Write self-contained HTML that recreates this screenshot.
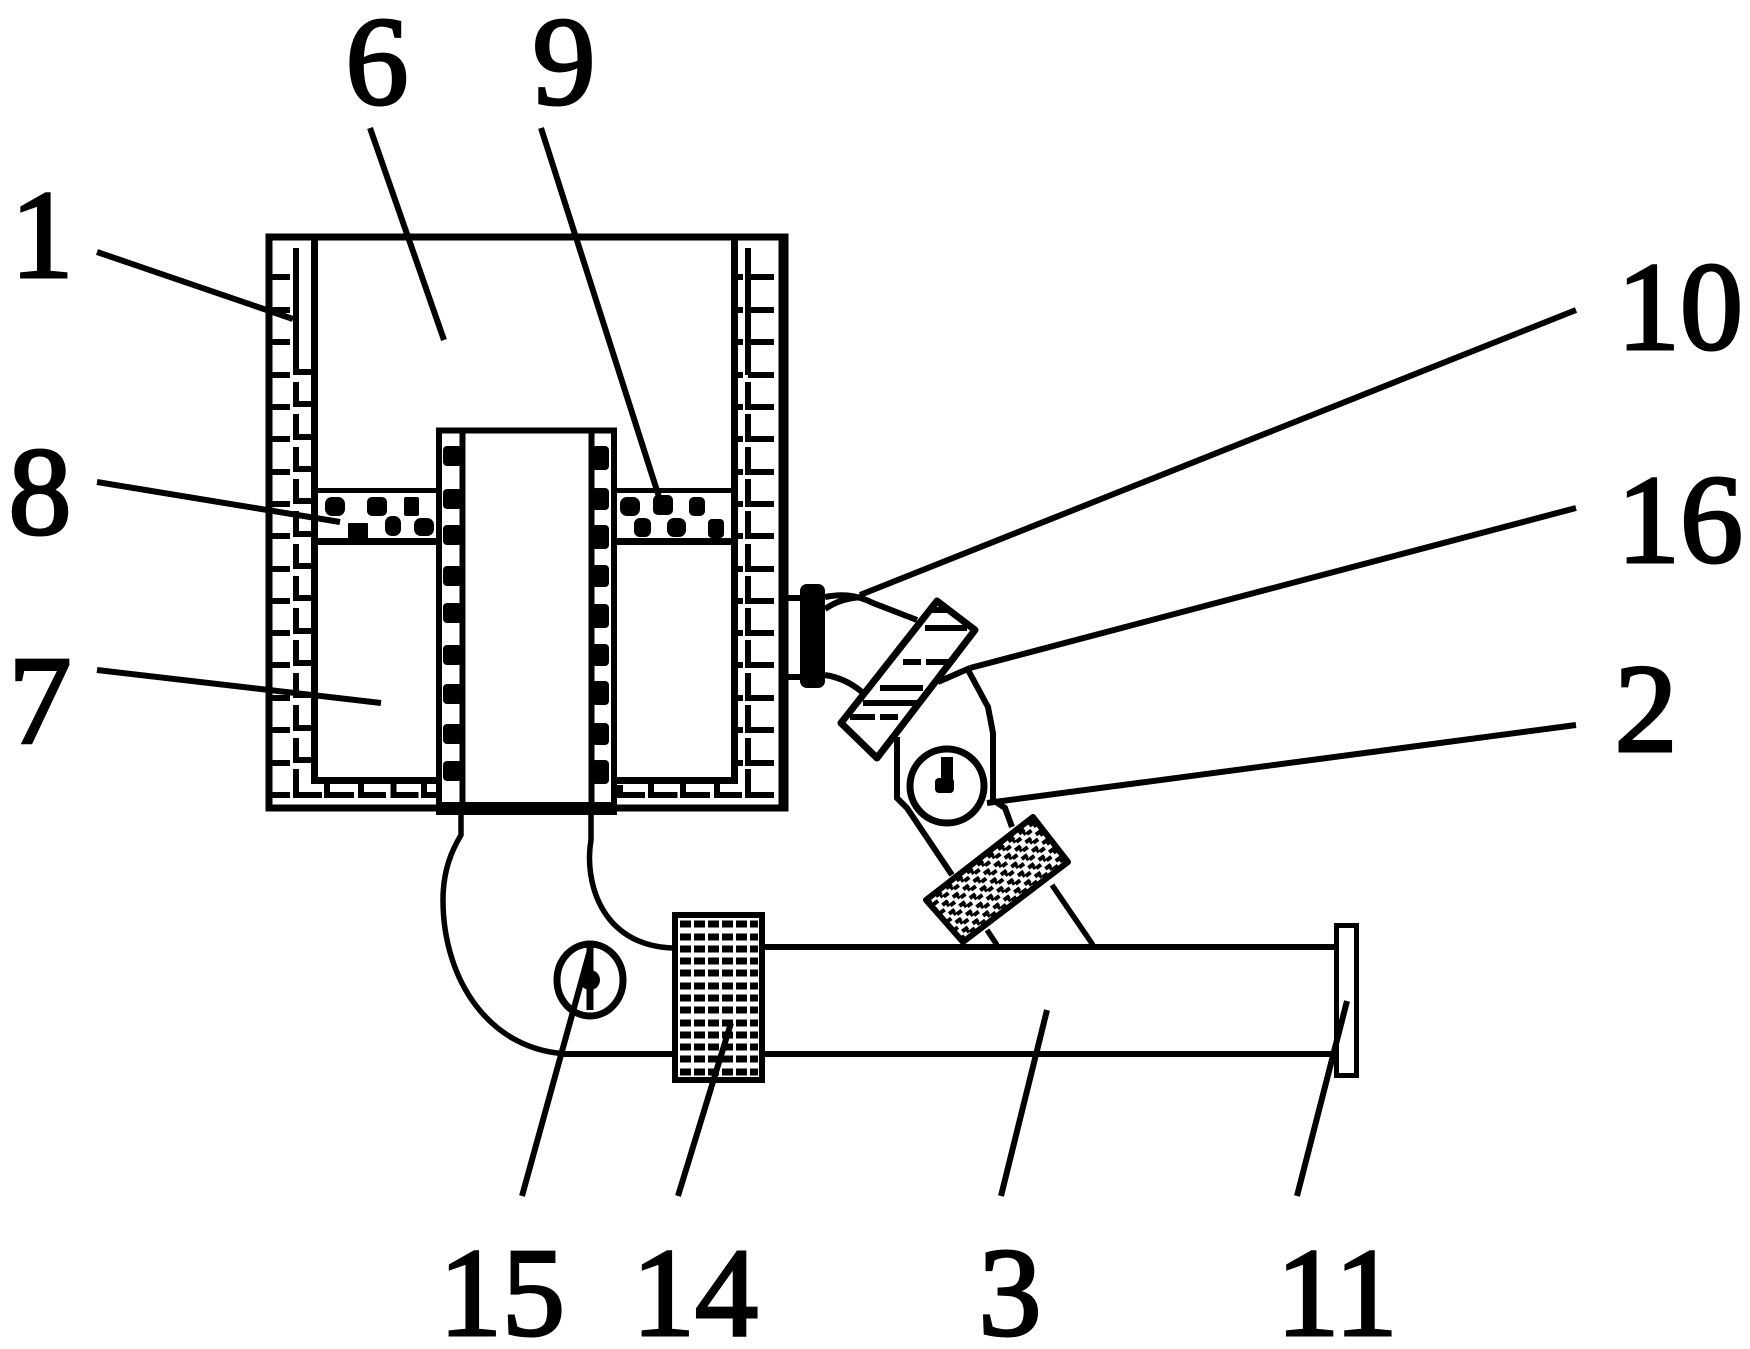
<!DOCTYPE html>
<html><head><meta charset="utf-8"><style>
html,body{margin:0;padding:0;background:#fff;width:1750px;height:1349px;overflow:hidden}
svg{display:block}
text{font-family:"Liberation Serif",serif;font-size:126px;fill:#000;text-anchor:middle}
</style></head><body>
<svg width="1750" height="1349" viewBox="0 0 1750 1349" fill="none" stroke="#000" stroke-linecap="butt">
<defs>
<pattern id="kn" width="13" height="11" patternUnits="userSpaceOnUse" patternTransform="rotate(-37)">
<rect width="13" height="11" fill="#fff" stroke="none"/>
<rect x="0" y="1" width="7" height="4" fill="#000" stroke="none"/>
<rect x="6" y="6" width="6" height="4" fill="#000" stroke="none"/>
<rect x="3" y="3" width="3" height="5" fill="#000" stroke="none"/>
</pattern>
<clipPath id="hc"><polygon points="937,599 977,630 877,760 839,723"/></clipPath>
</defs>

<!-- main housing -->
<rect x="269" y="237" width="516" height="571" stroke-width="7"/>
<path d="M782 240V805" stroke-width="7"/>
<path d="M314.500 240V780.500H439M734.500 240V780.500H614" stroke-width="7"/>
<!-- left wall bricks -->
<path stroke-width="6" d="M272 277h18M272 310h18M272 342h18M272 375h18M272 407h18M272 439h18M272 472h18M272 504h18M272 536h18M272 569h18M272 601h18M272 633h18M272 665h18M272 698h18M272 730h18M272 763h18M272 795h18"/>
<path stroke-width="6" d="M296 248V372H311M296 382V404H311M296 414V437H311M296 447V469H311M296 479V501H311M296 511V534H311M296 544V566H311M296 576V598H311M296 608V631H311M296 640V663H311M296 673V695H311M296 705V728H311M296 738V760H311M296 769V795H322M327 783V795H354M361 783V795H386M393.500 783V795H418.500M424 783V795H436"/>
<!-- right wall bricks -->
<path stroke-width="6" d="M738 277h5M738 310h5M738 342h5M738 375h5M738 407h5M738 439h5M738 472h5M738 504h5M738 536h5M738 569h5M738 601h5M738 633h5M738 665h5M738 698h5M738 730h5M738 763h5"/>
<path stroke-width="6" d="M748 248V375M748 277H774M748 310H774M748 342H774M748 375H774M748 382V407H774M748 414V439H774M748 447V472H774M748 479V504H774M748 511V536H774M748 544V569H774M748 576V601H774M748 608V633H774M748 640V665H774M748 673V698H774M748 705V730H774M748 738V763H774M748 769V795H774M620 785V795H645M651 783V795H677.500M683 783V795H710M717 783V795H742"/>
<!-- band -->
<path stroke-width="5" d="M318 490.500H436M617 490.500H731"/>
<path stroke-width="7" d="M318 541.500H436M617 541.500H731"/>
<g fill="#000" stroke="none">
<rect x="325" y="497" width="20" height="19" rx="7"/><rect x="367" y="497" width="20" height="19" rx="5"/><rect x="404" y="497" width="15" height="19" rx="2"/>
<rect x="348" y="523" width="20" height="16" rx="1"/><rect x="385" y="516" width="16" height="20" rx="7"/><rect x="414" y="518" width="20" height="18" rx="7"/>
<rect x="620" y="497" width="20" height="19" rx="7"/><rect x="653" y="495" width="20" height="20" rx="5"/><rect x="689" y="497" width="16" height="19" rx="5"/>
<rect x="634" y="518" width="17" height="19" rx="6"/><rect x="667" y="518" width="19" height="19" rx="7"/><rect x="708" y="519" width="16" height="19" rx="4"/>
</g>
<!-- center tube -->
<path stroke-width="6" d="M439 808V430.500H614V808"/>
<path stroke-width="6" d="M462.500 433V805M591.500 433V805"/>
<path stroke-width="13" d="M436 808.500H617"/>
<g fill="#000" stroke="none">
<rect x="443" y="446" width="19" height="20" rx="4"/><rect x="443" y="489" width="19" height="20" rx="4"/><rect x="443" y="525" width="19" height="20" rx="4"/><rect x="443" y="566" width="19" height="20" rx="4"/><rect x="443" y="603" width="19" height="20" rx="4"/><rect x="443" y="645" width="19" height="20" rx="4"/><rect x="443" y="684" width="19" height="20" rx="4"/><rect x="443" y="724" width="19" height="20" rx="4"/><rect x="443" y="761" width="19" height="20" rx="4"/>
<rect x="592" y="446" width="17" height="24" rx="4"/><rect x="592" y="488" width="17" height="22" rx="4"/><rect x="592" y="525" width="17" height="24" rx="4"/><rect x="592" y="565" width="17" height="22" rx="4"/><rect x="592" y="604" width="17" height="24" rx="4"/><rect x="592" y="644" width="17" height="22" rx="4"/><rect x="592" y="681" width="17" height="24" rx="4"/><rect x="592" y="723" width="17" height="22" rx="4"/><rect x="592" y="760" width="17" height="24" rx="4"/>
</g>
<!-- hoses -->
<path stroke-width="5.500" d="M461 815V835C452 850 443 870 443 900C443 980 490 1052 570 1054"/>
<path stroke-width="5.500" d="M591 815V840C584 880 600 945 672 948"/>
<!-- pipe 3 -->
<path stroke-width="6" d="M560 1054H672M765 947H1334M765 1054H1334"/>
<rect x="1336.500" y="925.500" width="20" height="150" stroke-width="5" fill="#fff"/>
<!-- block 14 -->
<rect x="675" y="915" width="87" height="165" stroke-width="6" fill="#fff"/>
<g stroke-width="7" stroke-dasharray="11 3">
<path d="M680 924H758M680 937H758M680 949H758M680 961H758M680 973H758M680 986H758M680 998H758M680 1010H758M680 1023H758M680 1035H758M680 1047H758M680 1059H758M680 1072H758"/>
</g>
<!-- circle 15 -->
<ellipse cx="590" cy="980" rx="33" ry="36" stroke-width="7" fill="#fff"/>
<path stroke-width="7" d="M590 945V1010"/>
<circle cx="590" cy="980" r="10" fill="#000" stroke="none"/>
<!-- connector 10 -->
<path stroke-width="6" d="M788 598H800M788 677H800"/>
<rect x="800" y="584" width="25" height="104" rx="7" fill="#000" stroke="none"/>
<path stroke-width="6" d="M825 597C840 594 855 594 873 603L917 620M825 609C838 600 850 598 862 597M825 675C838 677 850 682 862 692"/>
<!-- hatched plate -->
<polygon points="937,601 975,630 877,758 841,723" fill="#fff" stroke-width="7" stroke-linejoin="round"/>
<g clip-path="url(#hc)" stroke-width="6">
<path d="M925 628H967M903 662H921M926 662H957M880 688H923M863 703H917M850 717H875M880 717H898M930 610H955"/>
</g>
<!-- body 2 -->
<path stroke-width="6" d="M897 737V798L907 808L952 875M967 668L988 707L993 733V800L1005 808L1012 827"/>
<path stroke-width="6" d="M938 682L970 668"/>
<circle cx="947" cy="786" r="37" stroke-width="7" fill="#fff"/>
<path stroke-width="12" d="M947 757V788"/>
<rect x="935" y="778" width="19" height="15" rx="4" fill="#000" stroke="none"/>
<!-- knurled block -->
<polygon points="1033,817 1068,862 963,942 926,900" fill="url(#kn)" stroke="#000" stroke-width="6" stroke-linejoin="round"/>
<path stroke-width="5.500" d="M1052 885L1093 945M987 930L997 945"/>
<!-- leaders -->
<g stroke-width="6">
<path d="M97 252L293 319M370 128L444 340M541 128L660 500M97 482L340 522M97 670L381 703M1576 310L860 595M1576 508L970 668M1576 725L987 803M522 1196L590 950M678 1196L731 1023M1001 1196L1047 1010M1297 1196L1347 1001"/>
</g>
<!-- labels -->
<g stroke="#000" stroke-width="3">
<text x="42" y="277">1</text>
<text x="377" y="104">6</text>
<text x="564" y="104">9</text>
<text x="40" y="534">8</text>
<text x="40" y="743">7</text>
<text x="1680" y="349">10</text>
<text x="1680" y="562">16</text>
<text x="1646" y="751">2</text>
<text x="502" y="1335">15</text>
<text x="695" y="1335">14</text>
<text x="1010" y="1335">3</text>
<text x="1337" y="1335">11</text>
</g>
</svg>
</body></html>
